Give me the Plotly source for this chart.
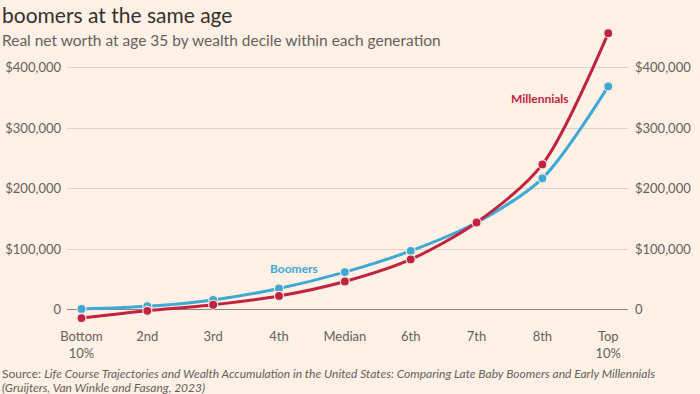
import plotly.graph_objects as go

categories = ["Bottom<br>10%", "2nd", "3rd", "4th", "Median", "6th", "7th", "8th", "Top<br>10%"]
boomers = [1000, 5500, 16000, 35000, 62000, 97000, 144000, 217000, 369000]
millennials = [-14000, -2000, 8000, 22500, 46500, 83000, 144000, 240000, 457000]
y_ticks = [0, 100000, 200000, 300000, 400000]
y_tick_labels = ["0", "$100,000", "$200,000", "$300,000", "$400,000"]

BG = "#FFF1E5"
RED = "#C0223F"
BLUE = "#3FA8D4"
GREY = "#66605C"
FONT = "Lato"

x = list(range(len(categories)))

W, H = 700, 394
l, r, t, b = 67, 72, 25, 69
pw, ph = W - l - r, H - t - b


def px(xp, yp):
    return (xp - l) / pw, 1 - (yp - t) / ph


fig = go.Figure()
fig.add_trace(go.Scatter(
    x=x, y=boomers, mode="lines+markers", name="Boomers",
    line=dict(color=BLUE, width=3, shape="spline", smoothing=0.8),
    marker=dict(color=BLUE, size=9, line=dict(color="#F4E8E0", width=1.2)),
))
fig.add_trace(go.Scatter(
    x=x, y=millennials, mode="lines+markers", name="Millennials",
    line=dict(color=RED, width=3, shape="spline", smoothing=0.8),
    marker=dict(color=RED, size=9, line=dict(color="#F4E8E0", width=1.2)),
))
# invisible trace to carry the right-hand axis
fig.add_trace(go.Scatter(x=x, y=boomers, yaxis="y2", mode="lines",
                         line=dict(width=0), opacity=0, hoverinfo="skip", showlegend=False))

yrange = [-25500, 470500]


def ann(text, xp, yp, size, color, xanchor="left"):
    ax, ay = px(xp, yp)
    return dict(text=text, x=ax, y=ay, xref="paper", yref="paper",
                xanchor=xanchor, yanchor="middle", showarrow=False,
                font=dict(size=size, color=color, family=FONT))


fig.update_layout(
    width=W, height=H,
    paper_bgcolor=BG, plot_bgcolor=BG,
    showlegend=False,
    margin=dict(l=l, r=r, t=t, b=b, autoexpand=False),
    font=dict(family=FONT, color=GREY, size=13),
    xaxis=dict(
        tickmode="array", tickvals=x, ticktext=categories,
        range=[-0.22, 8.3], showgrid=False, zeroline=False, showline=False,
        tickfont=dict(size=13, color=GREY), ticks="", ticklabelstandoff=2,
    ),
    yaxis=dict(
        tickmode="array", tickvals=y_ticks, ticktext=y_tick_labels,
        range=yrange, showgrid=True, gridcolor="#DCD2CA", gridwidth=1.2,
        zeroline=True, zerolinecolor="#8C8580", zerolinewidth=1.2,
        ticks="", tickfont=dict(size=13, color=GREY), ticklabelstandoff=5,
    ),
    yaxis2=dict(
        tickmode="array", tickvals=y_ticks, ticktext=y_tick_labels,
        range=yrange, overlaying="y", side="right", showgrid=False,
        zeroline=False, ticks="", tickfont=dict(size=13, color=GREY),
        ticklabelstandoff=6,
    ),
    annotations=[
        ann("boomers at the same age", 0, 14, 21, "#33302E"),
        ann("Real net worth at age 35 by wealth decile within each generation", 0, 40, 15.5, GREY),
        ann("Source: <i>Life Course Trajectories and Wealth Accumulation in the United States: Comparing Late Baby Boomers and Early Millennials</i>",
            0, 373, 12, GREY),
        ann("<i>(Gruijters, Van Winkle and Fasang, 2023)</i>", 0, 387, 12, GREY),
        ann("<b>Millennials</b>", 540, 98, 12, RED, "center"),
        ann("<b>Boomers</b>", 294, 268, 12, BLUE, "center"),
    ],
)

fig.write_html("out.html", config={"displayModeBar": False},
               post_script="document.body.style.margin='0';document.body.style.background='%s';" % BG)
